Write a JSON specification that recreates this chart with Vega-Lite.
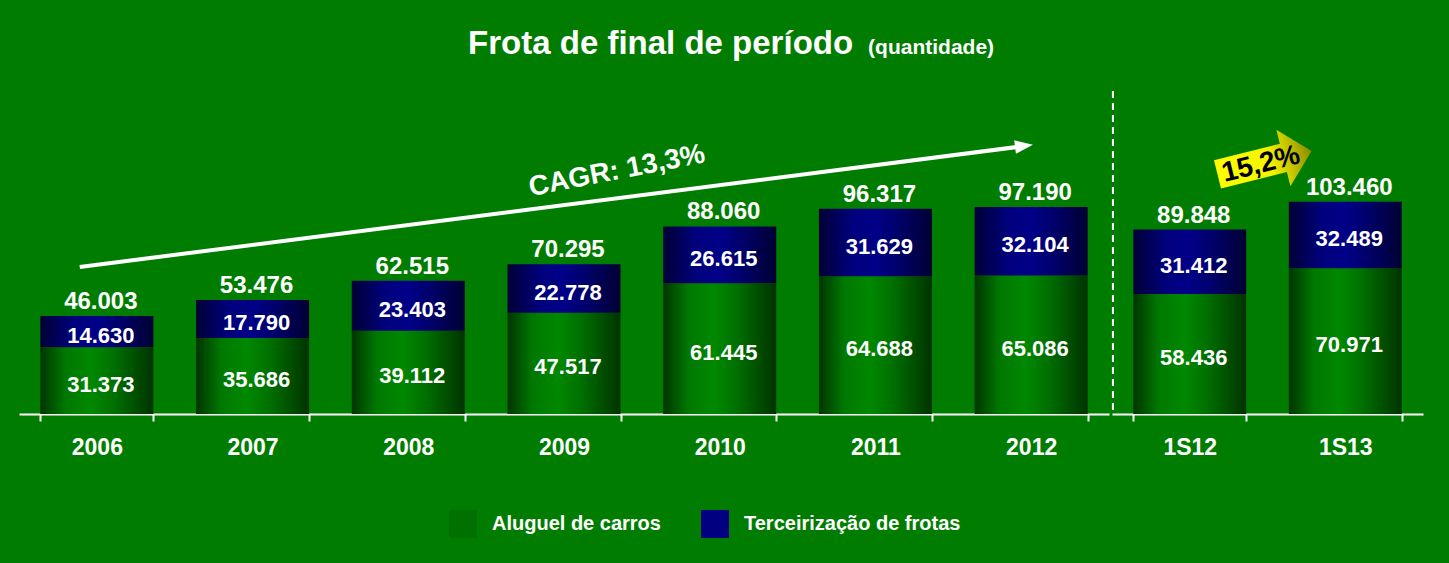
{
  "$schema": "https://vega.github.io/schema/vega-lite/v6.json",
  "background": "#007D00",
  "padding": {"left": 19, "top": 20, "right": 27, "bottom": 26},
  "datasets": {
    "anual": [
      {"periodo": "2006", "aluguel": 31373, "terceirizacao": 14630, "total": 46003},
      {"periodo": "2007", "aluguel": 35686, "terceirizacao": 17790, "total": 53476},
      {"periodo": "2008", "aluguel": 39112, "terceirizacao": 23403, "total": 62515},
      {"periodo": "2009", "aluguel": 47517, "terceirizacao": 22778, "total": 70295},
      {"periodo": "2010", "aluguel": 61445, "terceirizacao": 26615, "total": 88060},
      {"periodo": "2011", "aluguel": 64688, "terceirizacao": 31629, "total": 96317},
      {"periodo": "2012", "aluguel": 65086, "terceirizacao": 32104, "total": 97190}
    ],
    "semestral": [
      {"periodo": "1S12", "aluguel": 58436, "terceirizacao": 31412, "total": 89848},
      {"periodo": "1S13", "aluguel": 70971, "terceirizacao": 32489, "total": 103460}
    ]
  },
  "spacing": 2,
  "hconcat": [
    {
      "width": 1090,
      "height": 394,
      "layer": [
        {
          "data": {"name": "anual"},
          "encoding": {
            "x": {"field": "periodo", "type": "nominal", "sort": null,
                  "scale": {"paddingInner": 0.274, "paddingOuter": 0.137},
                  "axis": {"title": null, "labelAngle": 0, "tickBand": "extent"}}
          },
          "layer": [
            {"mark": {"type": "bar",
                      "color": {"gradient": "linear", "x1": 0, "y1": 0, "x2": 1, "y2": 0, "stops": [
                       {"offset": 0, "color": "#003500"}, {"offset": 0.22, "color": "#007800"}, {"offset": 0.45, "color": "#008800"}, {"offset": 0.65, "color": "#007000"}, {"offset": 1, "color": "#003300"}]}},
             "encoding": {
               "y": {"field": "aluguel", "type": "quantitative", "stack": null, "scale": {"domain": [0, 185000]}, "axis": null}
             }},
            {"mark": {"type": "bar",
                      "color": {"gradient": "linear", "x1": 0, "y1": 0, "x2": 1, "y2": 0, "stops": [
                       {"offset": 0, "color": "#000035"}, {"offset": 0.3, "color": "#00007E"}, {"offset": 0.5, "color": "#000088"}, {"offset": 0.7, "color": "#00006A"}, {"offset": 1, "color": "#000033"}]}},
             "encoding": {
               "y": {"field": "aluguel", "type": "quantitative", "stack": null, "scale": {"domain": [0, 185000]}, "axis": null},
               "y2": {"field": "total"}
             }},
            {"mark": {"type": "bar"},
             "encoding": {
               "y": {"datum": 0, "type": "quantitative", "scale": {"domain": [0, 185000]}, "axis": null},
               "y2": {"datum": 0},
               "color": {"datum": "Aluguel de carros", "type": "nominal",
                 "scale": {"domain": ["Aluguel de carros", "Terceirização de frotas"], "range": ["#007000", "#000080"]},
                 "legend": {
                   "encode": {
                     "symbols": {
                       "update": {
                         "fill": {"signal": "datum.label == 'Aluguel de carros' ? {gradient: 'linear', x1: 0, y1: 0, x2: 1, y2: 0, stops: [{offset: 0, color: '#003500'}, {offset: 0.22, color: '#007800'}, {offset: 0.45, color: '#008800'}, {offset: 0.65, color: '#007000'}, {offset: 1, color: '#003300'}]} : {gradient: 'linear', x1: 0, y1: 0, x2: 1, y2: 0, stops: [{offset: 0, color: '#000035'}, {offset: 0.3, color: '#00007E'}, {offset: 0.5, color: '#000088'}, {offset: 0.7, color: '#00006A'}, {offset: 1, color: '#000033'}]}"}
                       }
                     }
                   }
                 }}
             }},
            {"transform": [
               {"fold": ["aluguel", "terceirizacao"], "as": ["serie", "valor"]},
               {"stack": "valor", "groupby": ["periodo"], "sort": [{"field": "serie", "order": "ascending"}], "as": ["v0", "v1"]},
               {"fold": ["v0", "v1"], "as": ["ponta", "pos"]}
             ],
             "mark": {"type": "text", "dx": 4, "dy": 4, "baseline": "middle", "fontSize": 22},
             "encoding": {
               "y": {"field": "pos", "aggregate": "mean", "type": "quantitative", "scale": {"domain": [0, 185000]}, "axis": null},
               "detail": {"field": "serie"},
               "text": {"field": "valor", "type": "quantitative", "format": ",d"}
             }},
            {"mark": {"type": "text", "dx": 4, "dy": -7, "baseline": "alphabetic", "fontSize": 24},
             "encoding": {
               "y": {"field": "total", "type": "quantitative", "stack": null, "scale": {"domain": [0, 185000]}, "axis": null},
               "text": {"field": "total", "type": "quantitative", "format": ",d"}
             }}
          ]
        },
        {
          "data": {"values": [{}]},
          "layer": [
            {"mark": {"type": "text", "align": "left", "baseline": "alphabetic", "fontSize": 33, "text": "Frota de final de período"},
             "encoding": {
               "x": {"datum": 2.884, "type": "quantitative", "scale": {"domain": [0, 7]}, "axis": null},
               "y": {"datum": 168900, "type": "quantitative", "scale": {"domain": [0, 185000]}, "axis": null}
             }},
            {"mark": {"type": "text", "align": "left", "baseline": "alphabetic", "fontSize": 21, "text": "(quantidade)"},
             "encoding": {
               "x": {"datum": 5.453, "type": "quantitative", "scale": {"domain": [0, 7]}, "axis": null},
               "y": {"datum": 168900, "type": "quantitative", "scale": {"domain": [0, 185000]}, "axis": null}
             }},
            {"mark": {"type": "rule", "color": "white", "strokeWidth": 4},
             "encoding": {
               "x": {"datum": 0.39, "type": "quantitative", "scale": {"domain": [0, 7]}, "axis": null},
               "x2": {"datum": 6.44},
               "y": {"datum": 69020, "type": "quantitative", "scale": {"domain": [0, 185000]}, "axis": null},
               "y2": {"datum": 125650}
             }},
            {"mark": {"type": "point", "filled": true, "color": "white", "opacity": 1, "strokeWidth": 0, "size": 324, "angle": -7.3, "shape": "M-1,-0.75 L1,0 L-1,0.75 Z"},
             "encoding": {
               "x": {"datum": 6.454, "type": "quantitative", "scale": {"domain": [0, 7]}, "axis": null},
               "y": {"datum": 125890, "type": "quantitative", "scale": {"domain": [0, 185000]}, "axis": null}
             }},
            {"mark": {"type": "text", "align": "center", "baseline": "middle", "fontSize": 28, "angle": -11, "text": "CAGR: 13,3%"},
             "encoding": {
               "x": {"datum": 3.84, "type": "quantitative", "scale": {"domain": [0, 7]}, "axis": null},
               "y": {"datum": 114000, "type": "quantitative", "scale": {"domain": [0, 185000]}, "axis": null}
             }}
          ]
        }
      ],
      "resolve": {"scale": {"x": "independent"}}
    },
    {
      "width": 311,
      "height": 394,
      "layer": [
        {
          "data": {"name": "semestral"},
          "encoding": {
            "x": {"field": "periodo", "type": "nominal", "sort": null,
                  "scale": {"paddingInner": 0.274, "paddingOuter": 0.137},
                  "axis": {"title": null, "labelAngle": 0, "tickBand": "extent"}}
          },
          "layer": [
            {"mark": {"type": "bar",
                      "color": {"gradient": "linear", "x1": 0, "y1": 0, "x2": 1, "y2": 0, "stops": [
                       {"offset": 0, "color": "#003500"}, {"offset": 0.22, "color": "#007800"}, {"offset": 0.45, "color": "#008800"}, {"offset": 0.65, "color": "#007000"}, {"offset": 1, "color": "#003300"}]}},
             "encoding": {
               "y": {"field": "aluguel", "type": "quantitative", "stack": null, "scale": {"domain": [0, 192000]}, "axis": null}
             }},
            {"mark": {"type": "bar",
                      "color": {"gradient": "linear", "x1": 0, "y1": 0, "x2": 1, "y2": 0, "stops": [
                       {"offset": 0, "color": "#000035"}, {"offset": 0.3, "color": "#00007E"}, {"offset": 0.5, "color": "#000088"}, {"offset": 0.7, "color": "#00006A"}, {"offset": 1, "color": "#000033"}]}},
             "encoding": {
               "y": {"field": "aluguel", "type": "quantitative", "stack": null, "scale": {"domain": [0, 192000]}, "axis": null},
               "y2": {"field": "total"}
             }},
            {"transform": [
               {"fold": ["aluguel", "terceirizacao"], "as": ["serie", "valor"]},
               {"stack": "valor", "groupby": ["periodo"], "sort": [{"field": "serie", "order": "ascending"}], "as": ["v0", "v1"]},
               {"fold": ["v0", "v1"], "as": ["ponta", "pos"]}
             ],
             "mark": {"type": "text", "dx": 4, "dy": 4, "baseline": "middle", "fontSize": 22},
             "encoding": {
               "y": {"field": "pos", "aggregate": "mean", "type": "quantitative", "scale": {"domain": [0, 192000]}, "axis": null},
               "detail": {"field": "serie"},
               "text": {"field": "valor", "type": "quantitative", "format": ",d"}
             }},
            {"mark": {"type": "text", "dx": 4, "dy": -7, "baseline": "alphabetic", "fontSize": 24},
             "encoding": {
               "y": {"field": "total", "type": "quantitative", "stack": null, "scale": {"domain": [0, 192000]}, "axis": null},
               "text": {"field": "total", "type": "quantitative", "format": ",d"}
             }}
          ]
        },
        {
          "data": {"values": [{}]},
          "layer": [
            {"mark": {"type": "rule", "color": "white", "strokeWidth": 2, "strokeDash": [7, 5]},
             "encoding": {
               "x": {"datum": 0.006, "type": "quantitative", "scale": {"domain": [0, 2]}, "axis": null},
               "y": {"datum": 2000, "type": "quantitative", "scale": {"domain": [0, 192000]}, "axis": null},
               "y2": {"datum": 158870}
             }},
            {"mark": {"type": "point", "filled": true, "opacity": 1, "strokeWidth": 0, "size": 9400, "angle": -14,
                      "shape": "M-1,-0.3 L0.4,-0.3 L0.4,-0.6 L1,0 L0.4,0.6 L0.4,0.3 L-1,0.3 Z",
                      "color": {"gradient": "linear", "x1": 0, "y1": 0, "x2": 1, "y2": 0, "stops": [
                        {"offset": 0, "color": "#FFFF00"}, {"offset": 0.55, "color": "#F4F400"}, {"offset": 0.75, "color": "#C8C800"}, {"offset": 1, "color": "#8A8A00"}]}},
             "encoding": {
               "x": {"datum": 0.981, "type": "quantitative", "scale": {"domain": [0, 2]}, "axis": null},
               "y": {"datum": 122500, "type": "quantitative", "scale": {"domain": [0, 192000]}, "axis": null}
             }},
            {"mark": {"type": "text", "align": "center", "baseline": "middle", "fontSize": 28, "angle": -14, "color": "black", "text": "15,2%"},
             "encoding": {
               "x": {"datum": 0.958, "type": "quantitative", "scale": {"domain": [0, 2]}, "axis": null},
               "y": {"datum": 121500, "type": "quantitative", "scale": {"domain": [0, 192000]}, "axis": null}
             }}
          ]
        }
      ],
      "resolve": {"scale": {"x": "independent"}}
    }
  ],
  "resolve": {"scale": {"x": "independent", "y": "independent", "color": "shared"}},
  "config": {
    "view": {"stroke": null},
    "locale": {"number": {"decimal": ",", "thousands": ".", "grouping": [3], "currency": ["", ""]}},
    "text": {"font": "Liberation Sans", "fontWeight": "bold", "color": "white"},
    "axis": {
      "domainColor": "white", "domainWidth": 2,
      "tickColor": "white", "tickWidth": 2, "tickSize": 7,
      "labelColor": "white", "labelFont": "Liberation Sans", "labelFontWeight": "bold",
      "labelFontSize": 23, "labelPadding": 15, "grid": false
    },
    "legend": {
      "orient": "none", "legendX": 430, "legendY": 490, "direction": "horizontal",
      "title": null, "symbolType": "square", "symbolSize": 784, "symbolStrokeWidth": 0,
      "labelFontSize": 20, "labelFont": "Liberation Sans", "labelFontWeight": "bold",
      "labelColor": "white", "labelOffset": 15, "columnPadding": 40, "labelLimit": 400
    }
  }
}
